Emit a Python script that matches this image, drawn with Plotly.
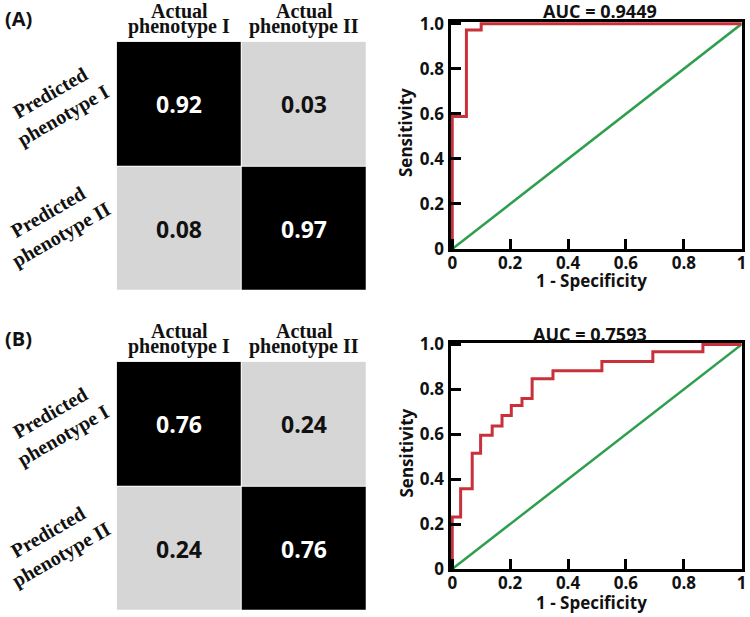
import plotly.graph_objects as go

W, H = 750, 617

# ---------------- data ----------------
classes = ["phenotype I", "phenotype II"]
col_headers = ["Actual", "Actual"]
row_headers = ["Predicted", "Predicted"]

cm_A = [[0.92, 0.03],
        [0.08, 0.97]]
cm_B = [[0.76, 0.24],
        [0.24, 0.76]]

auc_A = "0.9449"
auc_B = "0.7593"

fpr_A = [0.0, 0.0, 0.049, 0.049, 0.10, 0.10, 1.0]
tpr_A = [0.0, 0.588, 0.588, 0.973, 0.973, 1.0, 1.0]

fpr_B = [0.0, 0.0, 0.029, 0.029, 0.069, 0.069, 0.098, 0.098, 0.138, 0.138,
         0.172, 0.172, 0.204, 0.204, 0.241, 0.241, 0.276, 0.276, 0.348, 0.348,
         0.517, 0.517, 0.693, 0.693, 0.866, 0.866, 1.0]
tpr_B = [0.0, 0.232, 0.232, 0.357, 0.357, 0.516, 0.516, 0.596, 0.596, 0.637,
         0.637, 0.684, 0.684, 0.728, 0.728, 0.759, 0.759, 0.847, 0.847, 0.883,
         0.883, 0.924, 0.924, 0.968, 0.968, 1.0, 1.0]

diag = [0.0, 1.0]

x_ticks = [0, 0.2, 0.4, 0.6, 0.8, 1]
x_ticktext = ["0", "0.2", "0.4", "0.6", "0.8", "1"]
y_ticks = [0, 0.2, 0.4, 0.6, 0.8, 1.0]
y_ticktext = ["0", "0.2", "0.4", "0.6", "0.8", "1.0"]

# ---------------- helpers ----------------
def xp(px):
    return px / W

def yp(py):
    return 1 - py / H

SANS = "Open Sans"
SERIF = "Liberation Serif"
GRAY = "#d6d6d6"
RED = "#c8303a"
GREEN = "#2f9e4f"
INK = "#111111"

def ann(x, y, text, font, xref="paper", yref="paper", angle=0):
    return dict(x=x, y=y, xref=xref, yref=yref, text=text, showarrow=False,
                xanchor="center", yanchor="middle", textangle=angle, font=font)

fig = go.Figure()

panels = [
    dict(cm=cm_A, fpr=fpr_A, tpr=tpr_A, auc=auc_A, label="(A)", off=0, title_x=599.7, title_y=11),
    dict(cm=cm_B, fpr=fpr_B, tpr=tpr_B, auc=auc_B, label="(B)", off=320, title_x=590, title_y=334),
]

annotations = []
layout_axes = {}

for i, p in enumerate(panels):
    off = p["off"]
    mx = 2 * i + 1
    rx = 2 * i + 2
    mxn = "x" if mx == 1 else "x%d" % mx
    myn = "y" if mx == 1 else "y%d" % mx
    rxn = "x%d" % rx
    ryn = "y%d" % rx

    # ---- confusion matrix heatmap ----
    fig.add_trace(go.Heatmap(
        z=p["cm"], x=[0, 1], y=[0, 1],
        colorscale=[[0, GRAY], [0.5, GRAY], [0.5, "black"], [1, "black"]],
        zmin=0, zmax=1, showscale=False, xgap=1, ygap=1,
        xaxis=mxn, yaxis=myn, hoverinfo="skip"))

    top = 41.7 + off
    bot = 291 + off
    layout_axes["xaxis" if mx == 1 else "xaxis%d" % mx] = dict(
        domain=[xp(116.7), xp(366.7)], range=[-0.5, 1.5], visible=False,
        anchor=myn, fixedrange=True, automargin=False)
    layout_axes["yaxis" if mx == 1 else "yaxis%d" % mx] = dict(
        domain=[yp(bot), yp(top)], range=[1.5, -0.5], visible=False,
        anchor=mxn, fixedrange=True, automargin=False)

    for r in range(2):
        for c in range(2):
            v = p["cm"][r][c]
            annotations.append(ann(c, r, "%.2f" % v,
                                   dict(family=SANS, size=23, weight="bold",
                                        color="white" if v > 0.5 else INK),
                                   xref=mxn, yref=myn))

    serif_font = dict(family=SERIF, size=20, weight="bold", color=INK)
    # column headers
    for c in range(2):
        annotations.append(ann(c, yp(11 + off), col_headers[c], serif_font, xref=mxn))
        annotations.append(ann(c, yp(26.5 + off), classes[c], serif_font, xref=mxn))
    # row headers (rotated, two lines)
    row_pos = [(56.7, 104.5), (54.9, 223.5)]
    for r in range(2):
        ax_, ay_ = row_pos[r]
        annotations.append(ann(xp(ax_), yp(ay_ + off),
                               row_headers[r] + "<br>" + classes[r], serif_font, angle=-30))

    # panel label
    annotations.append(ann(xp(18), yp(18 + off), p["label"],
                           dict(family=SANS, size=20, weight="bold", color=INK)))

    # ---- ROC ----
    fig.add_trace(go.Scatter(x=diag, y=diag, mode="lines",
                             line=dict(color=GREEN, width=2.5),
                             xaxis=rxn, yaxis=ryn, showlegend=False, hoverinfo="skip"))
    fig.add_trace(go.Scatter(x=p["fpr"], y=p["tpr"], mode="lines",
                             line=dict(color=RED, width=3),
                             xaxis=rxn, yaxis=ryn, showlegend=False, hoverinfo="skip"))

    rtop = (22 if i == 0 else 22.7) + off
    rbot = 249 + off
    axis_common = dict(showgrid=False, zeroline=False, showline=True, linecolor="black",
                       linewidth=3, mirror=True, ticks="inside", ticklen=10, tickwidth=2.5,
                       tickcolor="black", fixedrange=True, automargin=False,
                       tickfont=dict(family=SANS, size=17, weight="bold", color=INK))
    layout_axes["xaxis%d" % rx] = dict(
        domain=[xp(450.5), xp(741.7)], range=[-0.006, 1.0], anchor=ryn,
        tickvals=x_ticks, ticktext=x_ticktext, ticklabelstandoff=-3, **axis_common)
    layout_axes["yaxis%d" % rx] = dict(
        domain=[yp(rbot), yp(rtop)], range=[0, 1.008], anchor=rxn,
        tickvals=y_ticks, ticktext=y_ticktext, **axis_common)

    sans_font = dict(family=SANS, size=17, weight="bold", color=INK)
    annotations.append(ann(xp(p["title_x"]), yp(p["title_y"]), "AUC = " + p["auc"],
                           dict(family=SANS, size=18, weight="bold", color=INK)))
    annotations.append(ann(xp(405.5), yp((132.5 if i == 0 else 133) + off), "Sensitivity",
                           sans_font, angle=-90))
    annotations.append(ann(xp(591.7), yp((280 if i == 0 else 282) + off), "1 - Specificity",
                           sans_font))

fig.update_layout(
    width=W, height=H, margin=dict(l=0, r=0, t=0, b=0, pad=0),
    paper_bgcolor="white", plot_bgcolor="white",
    showlegend=False, annotations=annotations, **layout_axes)

fig.write_html("out.html", config={"displayModeBar": False},
               post_script="document.body.style.margin='0';document.body.style.overflow='hidden';")
